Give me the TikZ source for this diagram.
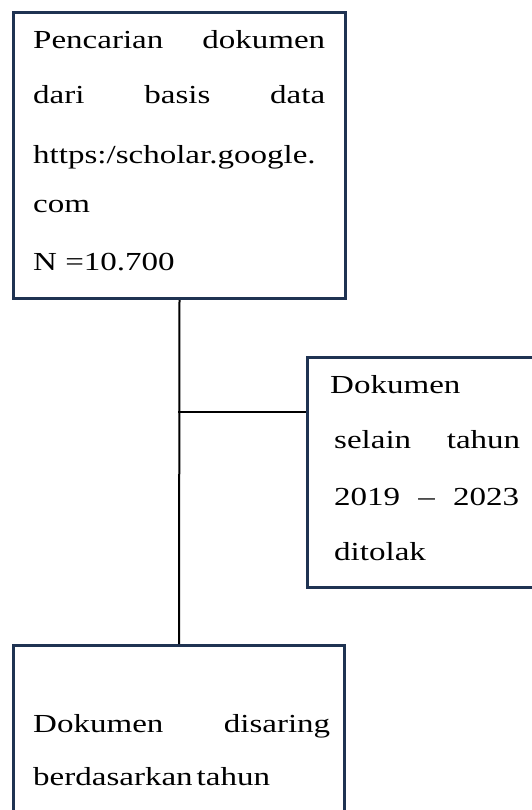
\documentclass[tikz,border=0pt]{standalone}
\usepackage{fontspec}
\setmainfont[FakeStretch=1.27]{Liberation Serif}
\definecolor{navy}{HTML}{1F3352}
\begin{document}
\begin{tikzpicture}[x=1pt,y=-1pt,
  box/.style={draw=navy,line width=3pt,inner sep=0pt,anchor=north west},
  txt/.style={inner sep=0pt,anchor=base west,font=\fontsize{26}{30}\selectfont},
  conn/.style={draw=black,line width=2pt}]
\useasboundingbox (0,0) rectangle (531,810);
% boxes
\node[box,minimum width=332pt,minimum height=286pt] (b1) at (12,11) {};
\node[box,minimum width=234pt,minimum height=230pt] (b2) at (306,356) {};
\node[box,minimum width=331pt,minimum height=190pt] (b3) at (12,644) {};
% box 1 text
\node[txt] (t1a) at (33,49) {\hbox to 292pt{Pencarian\hfill dokumen}};
\node[txt] (t1b) at (33,104) {\hbox to 292pt{dari\hfill basis\hfill data}};
\node[txt] (t1c) at (33,164) {https:/scholar.google.};
\node[txt] (t1d) at (33,213) {com};
\node[txt] (t1e) at (33,270) {N =10.700};
% box 2 text
\node[txt] (t2a) at (330,393) {Dokumen};
\node[txt] (t2b) at (334,448) {\hbox to 186pt{selain\hfill tahun}};
\node[txt] (t2c) at (334,505) {\hbox to 185pt{2019\hfill –\hfill 2023}};
\node[txt] (t2d) at (334,560) {ditolak};
% box 3 text
\node[txt] (t3a) at (33,732) {\hbox to 297pt{Dokumen\hfill disaring}};
\node[txt] (t3b) at (33,785) {berdasarkan\hspace{4pt}tahun};
% connectors
\coordinate (j) at (178,412);
\draw[conn] (b1.south) -- (b3.north);
\draw[conn] (j) -- (j -| b2.west);
\end{tikzpicture}
\end{document}
